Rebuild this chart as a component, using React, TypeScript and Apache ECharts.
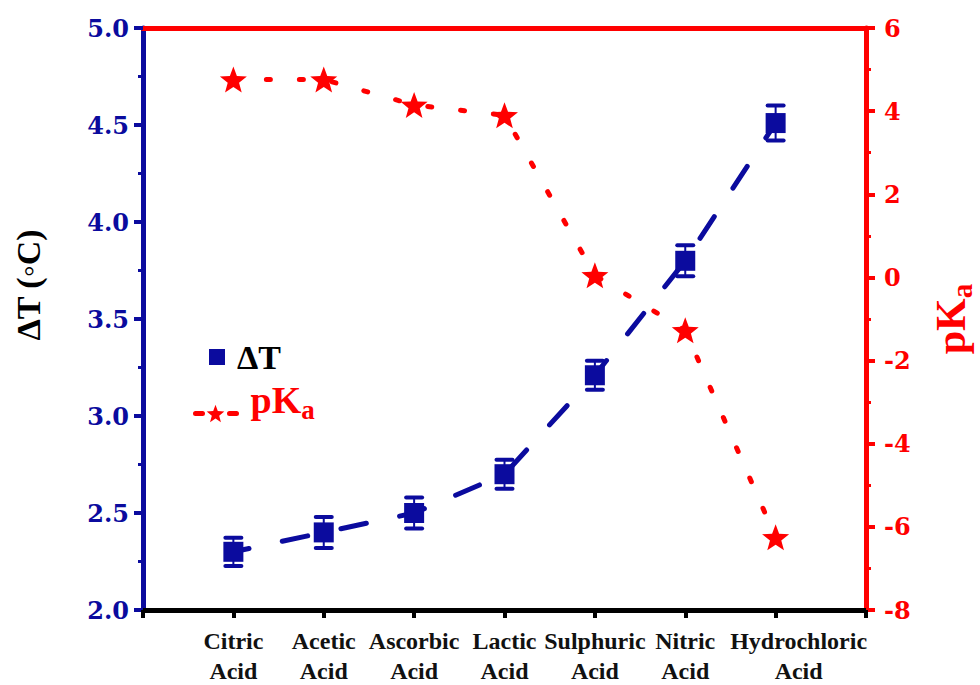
import { useEffect, useRef } from 'react';
import * as echarts from 'echarts';

const categories = ['Citric\nAcid', 'Acetic\nAcid', 'Ascorbic\nAcid', 'Lactic\nAcid', 'Sulphuric\nAcid', 'Nitric\nAcid', 'Hydrochloric\nAcid'];
const deltaT = [2.3, 2.4, 2.5, 2.7, 3.21, 3.8, 4.51];
const deltaTErr = [0.073, 0.08, 0.08, 0.075, 0.075, 0.08, 0.09];
const pKa = [4.76, 4.76, 4.15, 3.9, 0.05, -1.27, -6.25];
const leftTicks = [2.0, 2.5, 3.0, 3.5, 4.0, 4.5, 5.0];
const rightTicks = [-8, -6, -4, -2, 0, 2, 4, 6];

const BLUE = '#0b0b9e';
const RED = '#ff0000';
const SERIF = "'Liberation Serif', 'Times New Roman', serif";
const WIDE = "'DejaVu Serif', serif";
const STAR = 'path://M10,0L12.47,6.6L19.51,6.91L13.99,11.3L15.88,18.09L10,14.2L4.12,18.09L6.01,11.3L0.49,6.91L7.53,6.6Z';

export default function App() {
  const ref = useRef<HTMLDivElement>(null);
  useEffect(() => {
    if (!ref.current) return;
    const chart = echarts.init(ref.current, null, { renderer: 'svg' });
    const dtPoints = deltaT.map((v, i) => [i + 1, v]);
    const pkPoints = pKa.map((v, i) => [i + 1, v]);
    const errData = deltaT.map((v, i) => [i + 1, v, deltaTErr[i]]);
    const nameRich = {
      p: { fontFamily: SERIF, fontWeight: 'bold', fontSize: 42, color: RED, lineHeight: 46, verticalAlign: 'top' },
      s: { fontFamily: SERIF, fontWeight: 'bold', fontSize: 29, color: RED, lineHeight: 29, verticalAlign: 'bottom', padding: [22, 0, 0, 0] },
    };
    const legendRich = {
      p: { fontFamily: SERIF, fontWeight: 'bold', fontSize: 38, color: RED, lineHeight: 42, verticalAlign: 'top' },
      s: { fontFamily: SERIF, fontWeight: 'bold', fontSize: 27, color: RED, lineHeight: 27, verticalAlign: 'bottom', padding: [22, 0, 0, 0] },
    };
    const lastIdx = categories.length;
    const option: any = {
      animation: false,
      backgroundColor: '#ffffff',
      grid: { left: 143, right: 114, top: 28, bottom: 75, containLabel: false, outerBoundsMode: 'none' },
      xAxis: [
        {
          type: 'value', min: 0, max: categories.length + 1, interval: 1,
          axisLine: { onZero: false, lineStyle: { color: '#000', width: 5 } },
          axisTick: { show: true, length: 8, lineStyle: { color: '#000', width: 4 } },
          splitLine: { show: false },
          axisLabel: {
            margin: 16,
            formatter: (v: number) => {
              const c = categories[v - 1];
              if (!c) return '';
              return v === lastIdx ? '{w|' + c + '}' : c;
            },
            fontFamily: SERIF, fontWeight: 'bold', fontSize: 24, lineHeight: 30, color: '#111',
            rich: {
              w: { fontFamily: SERIF, fontWeight: 'bold', fontSize: 24, lineHeight: 30, color: '#111', padding: [0, 0, 0, 46] },
            },
            showMinLabel: true, showMaxLabel: true,
          },
        },
        {
          type: 'value', position: 'top', min: 0, max: categories.length + 1, interval: 1,
          axisLine: { onZero: false, lineStyle: { color: RED, width: 5 } },
          axisTick: { show: false }, axisLabel: { show: false }, splitLine: { show: false },
        },
      ],
      yAxis: [
        {
          type: 'value', position: 'left', min: leftTicks[0], max: leftTicks[leftTicks.length - 1], interval: 0.5,
          axisLine: { show: true, onZero: false, lineStyle: { color: BLUE, width: 5 } },
          axisTick: { show: true, length: 9, lineStyle: { color: BLUE, width: 4 } },
          minorTick: { show: true, splitNumber: 2, length: 5, lineStyle: { color: BLUE, width: 3 } },
          splitLine: { show: false }, minorSplitLine: { show: false },
          axisLabel: {
            margin: 14, formatter: (v: number) => v.toFixed(1),
            fontFamily: WIDE, fontWeight: 'bold', fontSize: 24, color: BLUE,
          },
          name: 'ΔT (◦C)', nameLocation: 'middle', nameGap: 98,
          nameTextStyle: { fontFamily: SERIF, fontWeight: 'bold', fontSize: 34, color: '#000', padding: [0, 0, 0, 68] },
        },
        {
          type: 'value', position: 'right', min: rightTicks[0], max: rightTicks[rightTicks.length - 1], interval: 2,
          axisLine: { show: true, onZero: false, lineStyle: { color: RED, width: 5 } },
          axisTick: { show: true, length: 9, lineStyle: { color: RED, width: 4 } },
          minorTick: { show: true, splitNumber: 2, length: 5, lineStyle: { color: RED, width: 3 } },
          splitLine: { show: false }, minorSplitLine: { show: false },
          axisLabel: {
            margin: 18, formatter: (v: number) => String(v),
            fontFamily: WIDE, fontWeight: 'bold', fontSize: 24, color: RED,
          },
          name: '{p|pK}{s|a}', nameLocation: 'middle', nameGap: 64,
          nameTextStyle: { color: RED, rich: nameRich },
        },
      ],
      legend: [
        {
          data: ['ΔT'], orient: 'vertical', left: 209, top: 340, padding: 0, itemGap: 0,
          itemWidth: 16, itemHeight: 16, icon: 'rect', selectedMode: false,
          textStyle: { fontFamily: SERIF, fontWeight: 'bold', fontSize: 34, color: '#000', lineHeight: 34, padding: [0, 0, 0, 7] },
        },
        {
          data: ['pKa'], orient: 'vertical', left: 188, top: 374, padding: 0, itemGap: 0,
          itemWidth: 50, itemHeight: 22, selectedMode: false,
          lineStyle: { type: [7, 27], dashOffset: 29, width: 5, cap: 'round', color: RED },
          formatter: () => '{p|pK}{s|a}',
          textStyle: { color: RED, rich: legendRich, padding: [0, 0, 23, 5] },
        },
      ],
      series: [
        {
          name: 'ΔT trend', type: 'line', yAxisIndex: 0, data: dtPoints, symbol: 'none', silent: true, z: 2,
          lineStyle: { color: BLUE, width: 5, type: [26, 34], dashOffset: 10, cap: 'round' },
        },
        {
          name: 'ΔT error', type: 'custom', yAxisIndex: 0, data: errData, z: 3, silent: true,
          encode: { x: 0, y: 1 },
          renderItem: (_p: any, api: any) => {
            const x = api.value(0), y = api.value(1), e = api.value(2);
            const t = api.coord([x, y + e]);
            const b = api.coord([x, y - e]);
            const hw = 8;
            const st = { stroke: BLUE, lineWidth: 4, lineCap: 'round' };
            return {
              type: 'group',
              children: [
                { type: 'line', shape: { x1: t[0], y1: t[1], x2: b[0], y2: b[1] }, style: { stroke: BLUE, lineWidth: 2 } },
                { type: 'line', shape: { x1: t[0] - hw, y1: t[1], x2: t[0] + hw, y2: t[1] }, style: st },
                { type: 'line', shape: { x1: b[0] - hw, y1: b[1], x2: b[0] + hw, y2: b[1] }, style: st },
              ],
            };
          },
        },
        {
          name: 'ΔT', type: 'scatter', yAxisIndex: 0, data: dtPoints, symbol: 'rect', symbolSize: 20, z: 4,
          itemStyle: { color: BLUE, opacity: 1 },
        },
        {
          name: 'pKa', type: 'line', yAxisIndex: 1, data: pkPoints, symbol: STAR, symbolSize: [27, 26], z: 5,
          itemStyle: { color: RED },
          lineStyle: { color: RED, width: 5, type: [4, 29], cap: 'round' },
        },
      ],
    };
    chart.setOption(option);
    return () => chart.dispose();
  }, []);
  return <div ref={ref} style={{ position: 'fixed', left: 0, top: 0, width: 980, height: 685, background: '#fff' }} />;
}
